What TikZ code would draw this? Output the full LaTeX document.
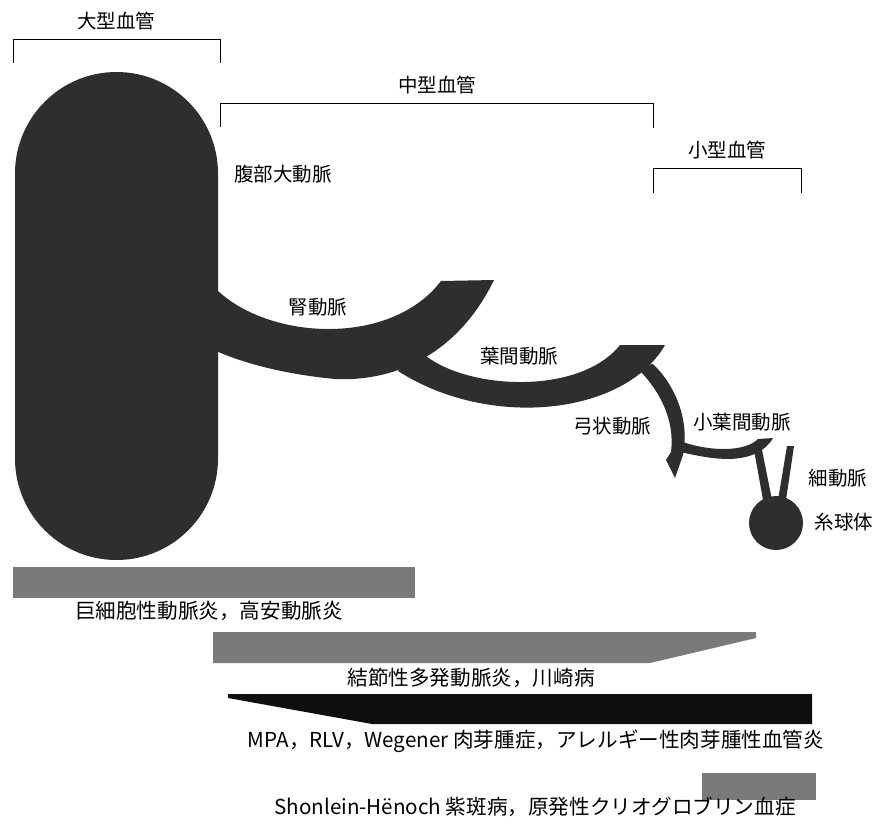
\documentclass[tikz,border=0pt]{standalone}
\usepackage{fontspec}
\setmainfont{Noto Sans CJK JP}
\usepackage{tikz}
\usetikzlibrary{positioning}

\tikzset{
  vessel/.style={fill=black!82, draw=none},
  greybar/.style={fill=black!52, draw=none},
  darkbar/.style={fill=black!94, draw=none},
  sizebracket/.style={draw, line width=0.8pt},
  disease/.style={font=\fontsize{20.6}{23}\selectfont},
}

\begin{document}
\begin{tikzpicture}[x=1pt, y=-1pt, every node/.style={inner sep=0pt, font=\fontsize{19.5}{22}\selectfont}]
  \useasboundingbox (0,0) rectangle (877,828);

  % vessel size classes
  \node (large) at (116,21) {大型血管};
  \node (medium) at (437,85) {中型血管};
  \node (small) at (727,150) {小型血管};
  \draw [sizebracket] (13,63) -- (13,39) -- (220,39) -- (220,63);
  \draw [sizebracket] (220,127) -- (220,103) -- (653,103) -- (653,128);
  \draw [sizebracket] (653,193) -- (653,168) -- (801,168) -- (801,193);

  % aorta
  \fill [vessel, rounded corners=101.5pt] (15,72) rectangle (218,560);
  % renal artery
  \fill [vessel] (214,287) .. controls (265,340) and (390,348) .. (441,281) -- (494,280)
    .. controls (460,350) and (400,382) .. (335,379) .. controls (282,374) and (240,362) .. (214,350) -- cycle;
  % interlobar artery
  \fill [vessel] (426,356) .. controls (470,390) and (580,395) .. (620,345) -- (665,345)
    .. controls (625,415) and (490,430) .. (398,371) -- (412,356) -- cycle;
  % arcuate artery
  \fill [vessel] (636,367) .. controls (660,390) and (675,420) .. (671,452) -- (666,460) -- (675,478)
    -- (683,455) .. controls (690,420) and (675,385) .. (653,364) -- cycle;
  % interlobular artery
  \fill [vessel] (680,441) .. controls (710,452) and (745,452) .. (758,439) -- (773,438)
    .. controls (765,452) and (750,458) .. (730,459) .. controls (710,459) and (695,455) .. (680,452) -- cycle;
  % arterioles and glomerulus
  \fill [vessel] (754,450) -- (762,450) -- (772,500) -- (763,500) -- cycle;
  \fill [vessel] (787,446) -- (794,446) -- (786,500) -- (778,500) -- cycle;
  \fill [vessel] (776,523) circle [radius=27];

  \node (aorta) at (283,174) {腹部大動脈};
  \node (renal) at (318,307) {腎動脈};
  \node (interlobar) at (519,356) {葉間動脈};
  \node (arcuate) at (612,426) {弓状動脈};
  \node (interlobular) at (742,422) {小葉間動脈};
  \node (arteriole) at (838,478) {細動脈};
  \node (glomerulus) at (844,522) {糸球体};

  % disease ranges
  \fill [greybar] (13,567) rectangle (415,598);
  \fill [greybar] (213,632) -- (756,632) -- (756,638) -- (650,663) -- (213,663) -- cycle;
  \fill [darkbar] (228,694) -- (812,694) -- (812,724) -- (372,724) -- (228,698) -- cycle;
  \fill [greybar] (702,773) rectangle (816,800);

  \node (gca) [disease] at (209,611) {巨細胞性動脈炎，高安動脈炎};
  \node (pan) [disease] at (471,678) {結節性多発動脈炎，川崎病};
  \node (mpa) [disease] at (536,741) {MPA，RLV，Wegener 肉芽腫症，アレルギー性肉芽腫性血管炎};
  \node (hsp) [disease] at (535,807) {Shonlein-Hënoch 紫斑病，原発性クリオグロブリン血症};
\end{tikzpicture}
\end{document}
